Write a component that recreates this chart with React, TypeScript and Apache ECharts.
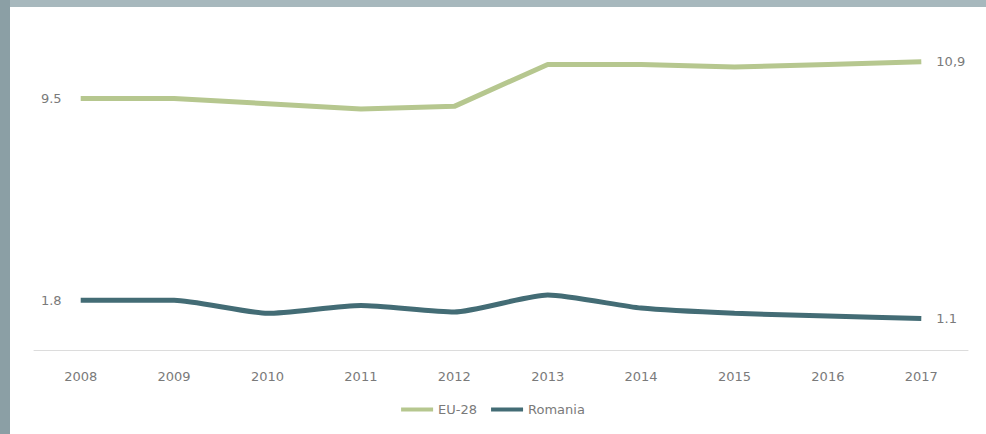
import React, { useEffect, useRef } from "react";
import * as echarts from "echarts";

const years = ["2008", "2009", "2010", "2011", "2012", "2013", "2014", "2015", "2016", "2017"];
const eu28 = [9.5, 9.5, 9.3, 9.1, 9.2, 10.8, 10.8, 10.7, 10.8, 10.9];
const romania = [1.8, 1.8, 1.3, 1.6, 1.35, 2.0, 1.5, 1.3, 1.2, 1.1];
const euEndLabels = ["9.5", "10,9"];
const roEndLabels = ["1.8", "1.1"];

const FONT = "'DejaVu Sans', 'Liberation Sans', Arial, sans-serif";
const TEXT = "#7a7a7a";

function endLabel(labels: string[], last: number) {
  return (p: any) => (p.dataIndex === 0 ? labels[0] : p.dataIndex === last ? labels[1] : "");
}

export default function App() {
  const ref = useRef<HTMLDivElement>(null);
  useEffect(() => {
    if (!ref.current) return;
    const chart = echarts.init(ref.current, null, { renderer: "svg" });
    const last = years.length - 1;
    const mkData = (vals: number[]) =>
      vals.map((v, i) => ({
        value: v,
        label: {
          show: i === 0 || i === last,
          position: i === 0 ? "left" : "right",
          distance: i === 0 ? 19 : 15,
        },
      }));
    chart.setOption({
      animation: false,
      backgroundColor: "#ffffff",
      textStyle: { fontFamily: FONT },
      grid: { left: 34, right: 18, top: 33, bottom: 84 },
      xAxis: {
        type: "category",
        data: years,
        boundaryGap: true,
        axisLine: { onZero: false, lineStyle: { color: "#dcdcdc", width: 1 } },
        axisTick: { show: false },
        axisLabel: { color: TEXT, fontSize: 13, fontFamily: FONT, margin: 20 },
      },
      yAxis: {
        type: "value",
        min: -0.1,
        max: 12,
        show: false,
        splitLine: { show: false },
      },
      legend: {
        bottom: 13,
        left: "center",
        itemWidth: 32,
        itemHeight: 4,
        itemGap: 14,
        icon: "rect",
        textStyle: { color: TEXT, fontSize: 13, fontFamily: FONT },
        data: ["EU-28", "Romania"],
      },
      series: [
        {
          name: "EU-28",
          type: "line",
          data: mkData(eu28),
          symbol: "circle",
          symbolSize: 0.1,
          showSymbol: true,
          color: "#b6c78f",
          lineStyle: { width: 5, color: "#b6c78f" },
          label: { color: TEXT, fontSize: 13, fontFamily: FONT, formatter: endLabel(euEndLabels, last) },
        },
        {
          name: "Romania",
          type: "line",
          data: mkData(romania),
          symbol: "circle",
          symbolSize: 0.1,
          showSymbol: true,
          smooth: 0.2,
          color: "#436c75",
          lineStyle: { width: 5, color: "#436c75" },
          label: { color: TEXT, fontSize: 13, fontFamily: FONT, formatter: endLabel(roEndLabels, last) },
        },
      ],
      graphic: [
        {
          type: "rect",
          left: 0,
          top: 0,
          shape: { width: 986, height: 7 },
          style: { fill: "#a7b8bd" },
          z: 100,
        },
        {
          type: "rect",
          left: 0,
          top: 0,
          shape: { width: 10, height: 434 },
          style: { fill: "#8b9fa5" },
          z: 101,
        },
      ],
    });
    return () => chart.dispose();
  }, []);
  return (
    <div
      ref={ref}
      style={{ position: "fixed", left: 0, top: 0, width: 986, height: 434, background: "#fff" }}
    />
  );
}
